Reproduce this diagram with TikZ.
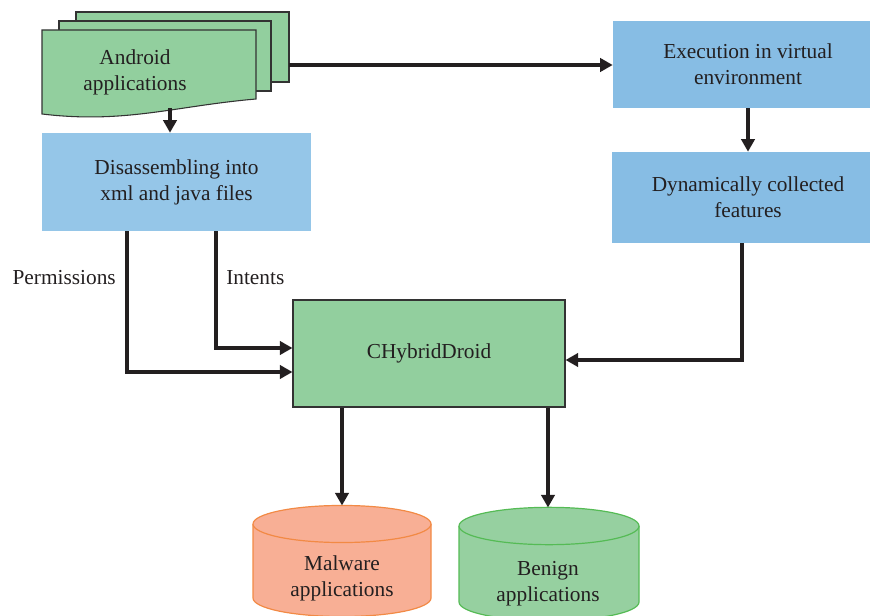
\documentclass[tikz,border=0pt]{standalone}
\usepackage{fontspec}
\setmainfont{Liberation Serif}
\usetikzlibrary{arrows.meta,calc}
\definecolor{gfill}{HTML}{92CF9E}
\definecolor{bfillA}{HTML}{95C6E8}
\definecolor{bfillB}{HTML}{87BDE4}
\definecolor{mfill}{HTML}{F8AF95}
\definecolor{mline}{HTML}{F28A45}
\definecolor{bnfill}{HTML}{96D0A0}
\definecolor{bnline}{HTML}{55BB55}
\definecolor{txt}{HTML}{231F20}
\definecolor{edge}{HTML}{333333}
\begin{document}
\begin{tikzpicture}[x=0.75pt,y=-0.75pt,
  every node/.style={text=txt,font=\fontsize{16}{19.5}\selectfont},
  box/.style={inner sep=0pt,align=center},
  sheet/.style={fill=gfill,draw=edge,line width=0.8pt},
  arr/.style={draw=txt,line width=2.6pt,-{Triangle[length=9.5pt,width=10pt]}},
]
\useasboundingbox (0,0) rectangle (870,616);
\begin{scope}
\clip (0,0) rectangle (870,616);
% document stack
\draw[sheet] (76,12) rectangle (289,82);
\draw[sheet] (59,21) rectangle (271,91);
\draw[sheet] (42,30) -- (256,30) -- (256,99) .. controls (175,106) and (125,124) .. (42,114) -- cycle;
\node[box] (and) at (135,72) {Android\\applications};
\coordinate (docr) at (289,65);
\coordinate (docb) at (170,108);
% boxes
\node[box,fill=bfillA,minimum width=201.75pt,minimum height=73.5pt] (dis) at (176.5,182) {Disassembling into\\xml and java files};
\node[box,fill=bfillB,minimum width=202.5pt,minimum height=65.25pt] (exe) at (748,64.5) {Execution in virtual\\environment};
\node[box,fill=bfillB,minimum width=204pt,minimum height=68.25pt] (dyn) at (748,197.5) {Dynamically collected\\features};
\node[box,fill=gfill,draw=edge,line width=0.8pt,minimum width=204pt,minimum height=80.25pt] (cb) at (429,353.5) {CHybridDroid};
% cylinders
\filldraw[fill=mfill,draw=mline,line width=0.9pt] (253,524) -- (253,598) arc[start angle=180,end angle=360,x radius=66.75pt,y radius=13.9pt] -- (431,524);
\draw[fill=mfill,draw=mline,line width=0.9pt] (342,524) ellipse[x radius=66.75pt,y radius=13.9pt];
\node[box] (mal) at (342,578) {Malware\\applications};
\coordinate (maltop) at (342,505.5);
\filldraw[fill=bnfill,draw=bnline,line width=0.9pt] (459,526) -- (459,602) arc[start angle=180,end angle=360,x radius=67.5pt,y radius=14pt] -- (639,526);
\draw[fill=bnfill,draw=bnline,line width=0.9pt] (549,526) ellipse[x radius=67.5pt,y radius=14pt];
\node[box] (ben) at (548,584) {Benign\\applications};
\coordinate (bentop) at (548,507.5);
\end{scope}
% connectors
\draw[arr] (docr) -- (exe.west |- docr);
\draw[arr] (docb) -- (docb |- dis.north);
\draw[arr] (exe.south) -- (dyn.north);
\draw[arr] (dyn.south -| 742,0) |- ($(cb.east)+(0,6.5)$);
\draw[arr] (dis.south -| 127,0) |- ($(cb.west)+(0,18.5)$);
\draw[arr] (dis.south -| 216,0) |- ($(cb.west)+(0,-5.5)$);
\draw[arr] (cb.south -| maltop) -- (maltop);
\draw[arr] (cb.south -| bentop) -- (bentop);
% labels
\node[box,anchor=east] (perm) at (116,278) {Permissions};
\node[box,anchor=west] (int) at (226,278) {Intents};
\end{tikzpicture}
\end{document}
